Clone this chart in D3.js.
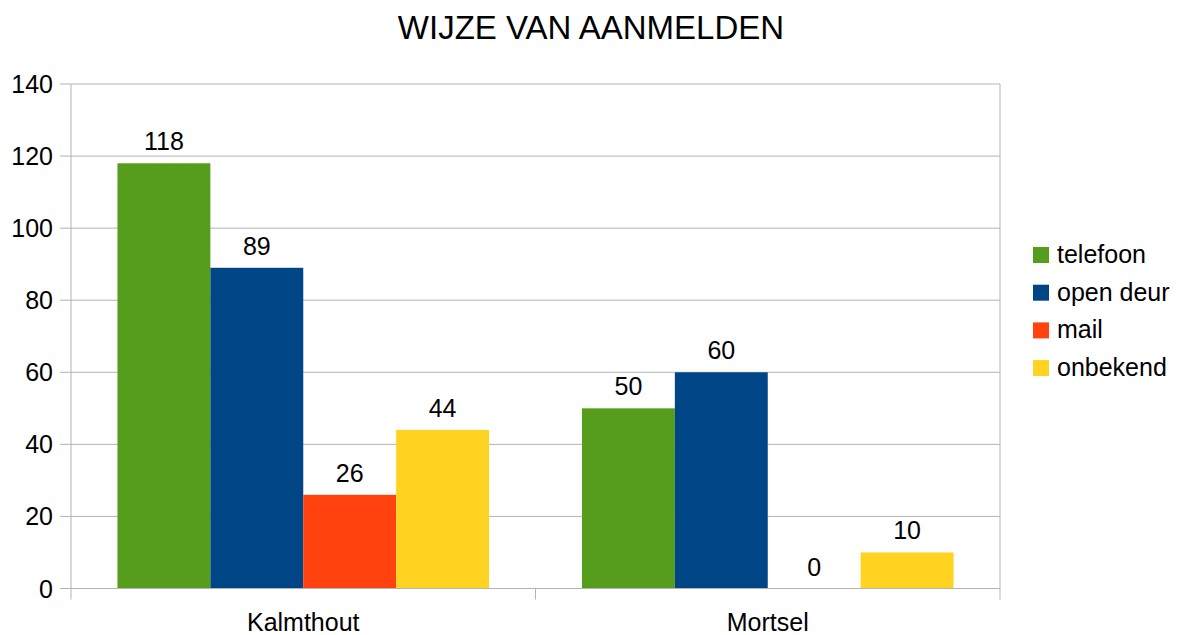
<!DOCTYPE html>
<html>
<head>
<meta charset="utf-8">
<script src="https://cdn.jsdelivr.net/npm/d3@7"></script>
<style>
  body { margin: 0; background: #fff; }
  svg text { font-family: "Liberation Sans", Arial, sans-serif; fill: #000; }
</style>
</head>
<body>
<svg id="chart" width="1180" height="635"></svg>
<script>
  // data
  const categories = ['Kalmthout', 'Mortsel'];
  const seriesNames = ['telefoon', 'open deur', 'mail', 'onbekend'];
  const telefoon = [118, 50];
  const openDeur = [89, 60];
  const mail = [26, 0];
  const onbekend = [44, 10];
  const yTicks = [0, 20, 40, 60, 80, 100, 120, 140];
  const colors = ['#579d1c', '#004586', '#ff420e', '#ffd320'];

  (function() {
    const values = [telefoon, openDeur, mail, onbekend];

    const svg = d3.select('#chart');
    const plotLeft = 71, plotRight = 1000, plotTop = 84, plotBottom = 588.5;

    const x0 = d3.scaleBand().domain(categories).range([plotLeft, plotRight]).paddingInner(0).paddingOuter(0);
    const x1 = d3.scaleBand().domain(seriesNames).range([0, x0.bandwidth()]).paddingInner(0).paddingOuter(0.5);
    const y = d3.scaleLinear().domain([0, 140]).range([plotBottom, plotTop]);

    // gridlines
    svg.append('g').selectAll('line').data(yTicks).enter().append('line')
      .attr('x1', plotLeft - 11).attr('x2', plotRight)
      .attr('y1', d => y(d)).attr('y2', d => y(d))
      .attr('stroke', '#b3b3b3').attr('stroke-width', 1);

    // vertical axis lines and ticks
    svg.append('line').attr('x1', plotLeft).attr('x2', plotLeft).attr('y1', plotTop).attr('y2', plotBottom + 11)
      .attr('stroke', '#b3b3b3');
    svg.append('line').attr('x1', plotRight).attr('x2', plotRight).attr('y1', plotTop).attr('y2', plotBottom + 11)
      .attr('stroke', '#b3b3b3');
    svg.append('line').attr('x1', x0('Mortsel')).attr('x2', x0('Mortsel')).attr('y1', plotBottom).attr('y2', plotBottom + 11)
      .attr('stroke', '#b3b3b3');

    // y labels
    svg.append('g').selectAll('text').data(yTicks).enter().append('text')
      .attr('x', plotLeft - 18).attr('y', d => y(d) + 9)
      .attr('text-anchor', 'end').attr('font-size', 25)
      .text(d => d);

    // bars
    const groups = svg.append('g').selectAll('g').data(categories).enter().append('g')
      .attr('transform', d => `translate(${x0(d)},0)`);

    const rows = (c, ci) => seriesNames.map((s, si) => ({ s, si, v: values[si][ci] }));

    groups.selectAll('rect').data(rows).enter().append('rect')
      .attr('x', d => x1(d.s))
      .attr('width', x1.bandwidth())
      .attr('y', d => y(d.v))
      .attr('height', d => y(0) - y(d.v))
      .attr('fill', d => colors[d.si]);

    groups.selectAll('text').data(rows).enter().append('text')
      .attr('x', d => x1(d.s) + x1.bandwidth() / 2)
      .attr('y', d => y(d.v) - 13)
      .attr('text-anchor', 'middle').attr('font-size', 25)
      .text(d => d.v);

    // bottom axis line
    svg.append('line').attr('x1', plotLeft).attr('x2', plotRight).attr('y1', plotBottom).attr('y2', plotBottom)
      .attr('stroke', '#b3b3b3');

    // x labels
    svg.append('g').selectAll('text').data(categories).enter().append('text')
      .attr('x', d => x0(d) + x0.bandwidth() / 2).attr('y', 631)
      .attr('text-anchor', 'middle').attr('font-size', 25)
      .text(d => d);

    // title
    svg.append('text').attr('x', 591).attr('y', 39).attr('text-anchor', 'middle')
      .attr('font-size', 33).text('WIJZE VAN AANMELDEN');

    // legend
    const legend = svg.append('g').selectAll('g').data(seriesNames).enter().append('g')
      .attr('transform', (d, i) => `translate(1033,${247 + i * 37.7})`);
    legend.append('rect').attr('width', 16).attr('height', 16).attr('fill', (d, i) => colors[i]);
    legend.append('text').attr('x', 24).attr('y', 16).attr('font-size', 25).text(d => d);
  })();
</script>
</body>
</html>
